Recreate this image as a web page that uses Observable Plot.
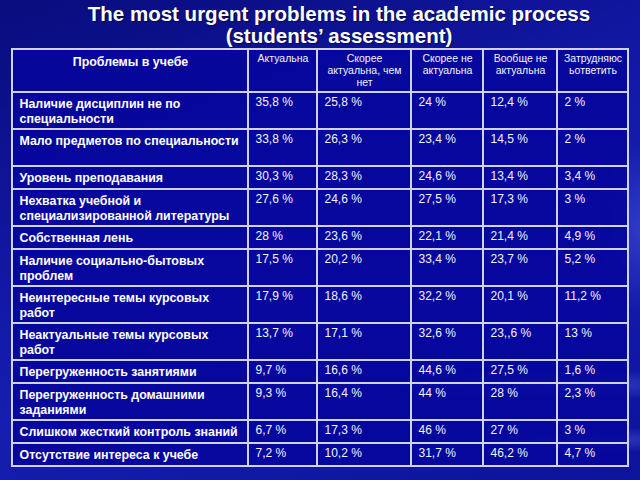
<!DOCTYPE html>
<html>
<head>
<meta charset="utf-8">
<script src="https://cdn.jsdelivr.net/npm/d3@7"></script>
<script src="https://cdn.jsdelivr.net/npm/@observablehq/plot@0.6"></script>
<style>
  html, body { margin: 0; padding: 0; }
  body {
    width: 640px; height: 480px; overflow: hidden;
    font-family: "Liberation Sans", Arial, sans-serif;
    background:
      radial-gradient(ellipse 260px 22px at 560px 385px, rgba(120,140,255,0.35), rgba(120,140,255,0) 70%),
      radial-gradient(ellipse 200px 18px at 600px 440px, rgba(120,140,255,0.30), rgba(120,140,255,0) 70%),
      radial-gradient(ellipse 60px 120px at 640px 230px, rgba(110,130,250,0.30), rgba(110,130,250,0) 70%),
      linear-gradient(160deg, #080c7c 0%, #1218a4 40%, #161eb0 60%, #0c129a 100%);
  }
  #wrap { position: relative; width: 640px; height: 480px; }
  #title {
    position: absolute; left: 38px; top: 3px; width: 602px;
    text-align: center; color: #fff; font-weight: bold;
    font-size: 20.5px; line-height: 22px; letter-spacing: 0;
    text-shadow: 1px 1px 1px rgba(0,0,0,0.5);
    z-index: 2;
  }
  #chart { position: absolute; left: 0; top: 0; }
</style>
</head>
<body>
<div id="wrap">
  <div id="title">The most urgent problems in the academic process<br>(students’ assessment)</div>
  <div id="chart"></div>
</div>
<script>
// ---- data ----
const headers = ["Проблемы в учебе", "Актуальна", "Скорее\nактуальна, чем\nнет", "Скорее не\nактуальна", "Вообще не\nактуальна", "Затрудняюс\nьответить"];
const problems = [
  "Наличие дисциплин не по\nспециальности",
  "Мало предметов по специальности",
  "Уровень преподавания",
  "Нехватка учебной и\nспециализированной литературы",
  "Собственная лень",
  "Наличие социально-бытовых\nпроблем",
  "Неинтересные темы курсовых\nработ",
  "Неактуальные темы курсовых\nработ",
  "Перегруженность занятиями",
  "Перегруженность домашними\nзаданиями",
  "Слишком жесткий контроль знаний",
  "Отсутствие интереса к учебе"
];
const actual      = ["35,8 %", "33,8 %", "30,3 %", "27,6 %", "28 %", "17,5 %", "17,9 %", "13,7 %", "9,7 %", "9,3 %", "6,7 %", "7,2 %"];
const ratherYes   = ["25,8 %", "26,3 %", "28,3 %", "24,6 %", "23,6 %", "20,2 %", "18,6 %", "17,1 %", "16,6 %", "16,4 %", "17,3 %", "10,2 %"];
const ratherNo    = ["24 %", "23,4 %", "24,6 %", "27,5 %", "22,1 %", "33,4 %", "32,2 %", "32,6 %", "44,6 %", "44 %", "46 %", "31,7 %"];
const notAtAll    = ["12,4 %", "14,5 %", "13,4 %", "17,3 %", "21,4 %", "23,7 %", "20,1 %", "23,,6 %", "27,5 %", "28 %", "27 %", "46,2 %"];
const hardToSay   = ["2 %", "2 %", "3,4 %", "3 %", "4,9 %", "5,2 %", "11,2 %", "13 %", "1,6 %", "2,3 %", "3 %", "4,7 %"];

// ---- layout (not data) ----
const colWidths = [236, 69, 94, 72, 74, 71];
const rowLines = [2, 2, 1, 2, 1, 2, 2, 2, 1, 2, 1, 1];
const lineH = {1: 23, 2: 37};
const headerH = 43;

const colStart = d3.cumsum([0, ...colWidths]);
const totalW = colStart[colStart.length - 1];
const rowStart = [0, headerH];
rowLines.forEach(n => rowStart.push(rowStart[rowStart.length - 1] + lineH[n]));
const totalH = rowStart[rowStart.length - 1];

const valueCols = [actual, ratherYes, ratherNo, notAtAll, hardToSay];

const cells = [];
const texts = [];
headers.forEach((h, j) => {
  cells.push({x1: colStart[j], x2: colStart[j + 1], y1: 0, y2: headerH});
  texts.push({kind: j === 0 ? "h0" : "h", text: h, x: (colStart[j] + colStart[j + 1]) / 2, y: 0});
});
problems.forEach((p, i) => {
  const y1 = rowStart[i + 1], y2 = rowStart[i + 2];
  cells.push({x1: colStart[0], x2: colStart[1], y1, y2});
  texts.push({kind: "label", text: p, x: colStart[0], y: y1});
  valueCols.forEach((col, k) => {
    const j = k + 1;
    cells.push({x1: colStart[j], x2: colStart[j + 1], y1, y2});
    texts.push({kind: "value", text: col[i], x: colStart[j], y: y1});
  });
});

const chart = Plot.plot({
  width: 640,
  height: 480,
  marginLeft: 12,
  marginRight: 12,
  marginTop: 49,
  marginBottom: 480 - 49 - totalH,
  x: {domain: [0, totalW], axis: null},
  y: {domain: [0, totalH], reverse: true, axis: null},
  style: {background: "transparent", fontFamily: "'Liberation Sans', Arial, sans-serif"},
  marks: [
    Plot.rect(cells, {x1: "x1", x2: "x2", y1: "y1", y2: "y2", fill: "#06069c", fillOpacity: 0.9, stroke: "#d0d2f2", strokeWidth: 2}),
    Plot.text(texts.filter(d => d.kind === "h0"), {x: "x", y: "y", text: "text", fill: "white", fontSize: 12.4, fontWeight: "bold", lineAnchor: "top", dy: 8, textAnchor: "middle"}),
    Plot.text(texts.filter(d => d.kind === "h"), {x: "x", y: "y", text: "text", fill: "#f4f4ff", fontSize: 10.5, lineHeight: 1.15, lineAnchor: "top", dy: 4, textAnchor: "middle"}),
    Plot.text(texts.filter(d => d.kind === "label"), {x: "x", y: "y", text: "text", fill: "white", fontSize: 12.4, fontWeight: "bold", lineHeight: 1.2, lineAnchor: "top", dy: 5, dx: 7, textAnchor: "start"}),
    Plot.text(texts.filter(d => d.kind === "value"), {x: "x", y: "y", text: "text", fill: "#f4f4ff", fontSize: 12, lineAnchor: "top", dy: 5, dx: 7, textAnchor: "start"})
  ]
});
document.getElementById("chart").appendChild(chart);
</script>
</body>
</html>
